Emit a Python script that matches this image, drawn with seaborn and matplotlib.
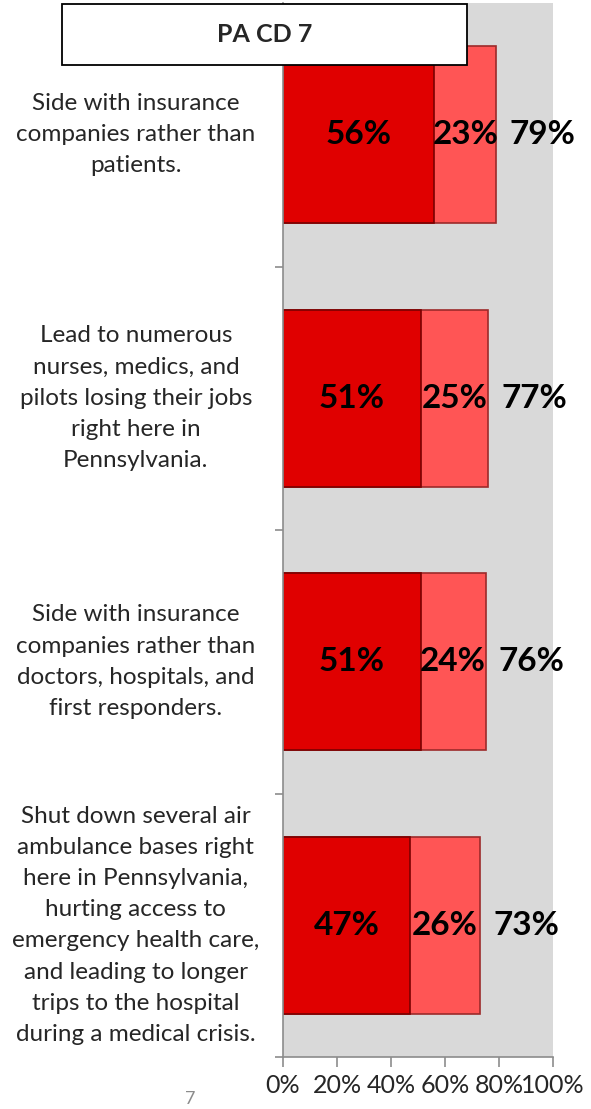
import matplotlib
matplotlib.use("Agg")
import matplotlib.pyplot as plt
from matplotlib.patches import Rectangle
import pandas as pd
import seaborn as sns

# data
statements = [
    "Side with insurance\ncompanies rather than\npatients.",
    "Lead to numerous\nnurses, medics, and\npilots losing their jobs\nright here in\nPennsylvania.",
    "Side with insurance\ncompanies rather than\ndoctors, hospitals, and\nfirst responders.",
    "Shut down several air\nambulance bases right\nhere in Pennsylvania,\nhurting access to\nemergency health care,\nand leading to longer\ntrips to the hospital\nduring a medical crisis.",
]
much_less_likely = [56, 51, 51, 47]
somewhat_less_likely = [23, 25, 24, 26]
total_less_likely = [79, 77, 76, 73]
x_ticks = [0, 20, 40, 60, 80, 100]
title = "PA CD 7"

DARK = "#e00000"
LIGHT = "#ff5555"

sns.set_style("white")
plt.rcParams["font.family"] = ["Lato", "DejaVu Sans"]

df = pd.DataFrame({
    "statement": statements,
    "much": much_less_likely,
    "somewhat": somewhat_less_likely,
    "total": total_less_likely,
})
df["stacked"] = df["much"] + df["somewhat"]

W, H = 591, 1109
fig = plt.figure(figsize=(W / 100, H / 100), dpi=100)
ax = fig.add_axes([283 / W, 1 - 1057 / H, 270 / W, 1054 / H])
ax.set_facecolor("#d9d9d9")

# light segment = full stack, dark drawn over it
sns.barplot(data=df, x="stacked", y="statement", color=LIGHT, width=0.67,
            edgecolor="#9c2a2a", linewidth=1.2, saturation=1, ax=ax)
sns.barplot(data=df, x="much", y="statement", color=DARK, width=0.67,
            edgecolor="#7a0000", linewidth=1.2, saturation=1, ax=ax)

for i, row in df.iterrows():
    ax.text(row["much"] / 2, i, f"{row['much']}%", ha="center", va="center",
            fontsize=24, fontweight="bold", color="black")
    ax.text(row["much"] + row["somewhat"] / 2, i, f"{row['somewhat']}%",
            ha="center", va="center", fontsize=24, fontweight="bold", color="black")
    ax.text(row["stacked"] + 5.0, i, f"{row['total']}%", ha="left", va="center",
            fontsize=24, fontweight="bold", color="black", clip_on=False)
    ax.text(-54.5, i, row["statement"], ha="center", va="center", fontsize=17.5,
            linespacing=1.6, multialignment="center", clip_on=False)

ax.set_xlim(0, 100)
ax.set_ylim(3.5, -0.5)
ax.set_xticks(x_ticks)
ax.set_xticklabels([f"{t}%" for t in x_ticks], fontsize=18)
ax.set_yticks([0.5, 1.5, 2.5, 3.5])
ax.set_yticklabels([])
ax.set_xlabel("")
ax.set_ylabel("")
ax.tick_params(axis="x", length=7.5, width=1.2, color="#8c8c8c", pad=5, bottom=True)
ax.tick_params(axis="y", length=6, width=1.2, color="#8c8c8c", left=True)
for side in ["top", "right"]:
    ax.spines[side].set_visible(False)
for side in ["left", "bottom"]:
    ax.spines[side].set_color("#8c8c8c")
    ax.spines[side].set_linewidth(1.2)

# header box
fig.add_artist(Rectangle((62 / W, 1 - 65 / H), 405 / W, 61 / H, transform=fig.transFigure,
                         facecolor="white", edgecolor="black", linewidth=1.3, zorder=10))
fig.text(265 / W, 1 - 35 / H, title, ha="center", va="center", fontsize=18,
         fontweight="bold", zorder=11)

# page number at the bottom edge
fig.text(190 / W, 1 - 1107 / H, "7", ha="center", va="bottom", fontsize=13, color="#8c8c8c")

fig.savefig("out.png", dpi=100)
